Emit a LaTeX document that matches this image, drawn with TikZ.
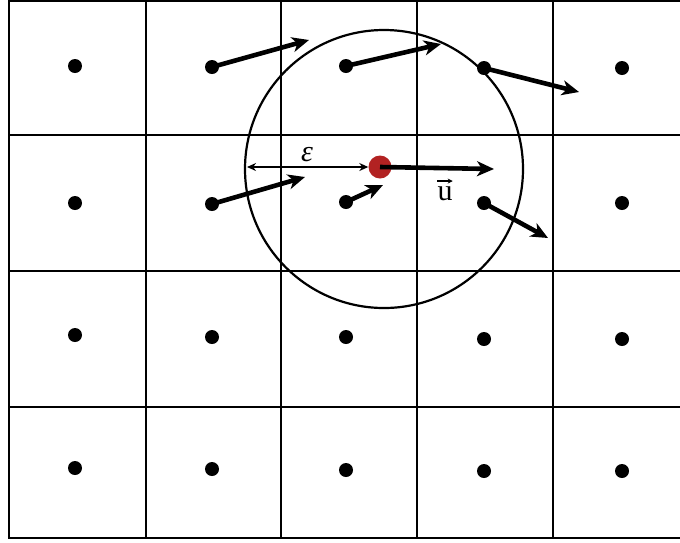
\documentclass[tikz,border=0pt]{standalone}
\usepackage{fontspec}
\newfontfamily\tnr{Liberation Serif}
\usetikzlibrary{arrows.meta}
\begin{document}
\begin{tikzpicture}[x=1pt,y=-1pt,
  gridline/.style={line width=2.3pt,black},
  pt/.style={circle,fill=black,inner sep=0pt,minimum size=14pt},
  vel/.style={line width=4.6pt,-{Stealth[length=17pt,width=15pt,inset=5pt]}},
  lbl/.style={font=\tnr\fontsize{30}{34}\selectfont,inner sep=0pt}]
\useasboundingbox (0,0) rectangle (680,542);
% grid
\foreach \x in {9,146,281,417,553} \draw[gridline] (\x,0) -- (\x,539);
\foreach \y in {1,135,271,407,538} \draw[gridline] (9,\y) -- (680,\y);
% circle
\draw[line width=2.2pt] (384,169) circle (139);
% dots
\node[pt] (a1) at (75,66) {};
\node[pt] (a2) at (212,67) {};
\node[pt] (a3) at (346,66) {};
\node[pt] (a4) at (484,68) {};
\node[pt] (a5) at (622,68) {};
\node[pt] (b1) at (75,203) {};
\node[pt] (b2) at (212,204) {};
\node[pt] (b3) at (346,202) {};
\node[pt] (b4) at (484,203) {};
\node[pt] (b5) at (622,203) {};
\node[pt] (c1) at (75,335) {};
\node[pt] (c2) at (212,337) {};
\node[pt] (c3) at (346,337) {};
\node[pt] (c4) at (484,339) {};
\node[pt] (c5) at (622,339) {};
\node[pt] (e1) at (75,468) {};
\node[pt] (e2) at (212,469) {};
\node[pt] (e3) at (346,470) {};
\node[pt] (e4) at (484,471) {};
\node[pt] (e5) at (622,471) {};
% arrow tips
\coordinate (ta2) at (309,40);
\coordinate (ta3) at (441,44);
\coordinate (ta4) at (579,92);
\coordinate (tb2) at (305,177);
\coordinate (tb3) at (383,185);
\coordinate (tb4) at (548,238);
\coordinate (tr) at (494,169);
\coordinate (el) at (247,167);
\draw[vel] (a2.center) -- (ta2);
\draw[vel] (a3.center) -- (ta3);
\draw[vel] (a4.center) -- (ta4);
\draw[vel] (b2.center) -- (tb2);
\draw[vel] (b3.center) -- (tb3);
\draw[vel] (b4.center) -- (tb4);
% red particle
\node[circle,fill={rgb,255:red,178;green,34;blue,34},inner sep=0pt,minimum size=23pt] (r) at (380,167) {};
\draw[vel] (r.center) -- (tr);
\draw[line width=1.4pt,{Stealth[length=9pt,width=8pt]}-{Stealth[length=9pt,width=8pt]}] (el) -- (r.west);
% labels
\node[lbl] (eps) at (307,155) {\itshape ε};
\node[lbl,anchor=base] (u) at (445,200) {u};
\draw[line width=1.1pt,-{Stealth[length=5pt,width=5pt]}] ([yshift=5pt]u.north west) -- ([yshift=5pt]u.north east);
\end{tikzpicture}
\end{document}
